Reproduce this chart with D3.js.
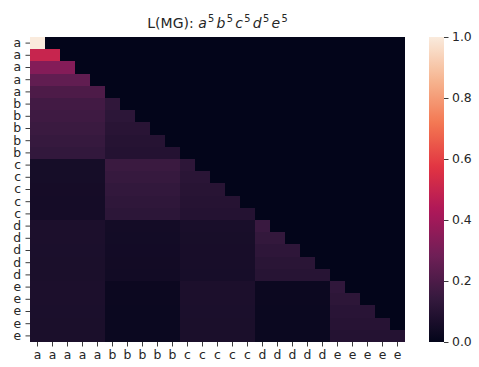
<!DOCTYPE html>
<html>
<head>
<meta charset="utf-8">
<script src="https://cdn.jsdelivr.net/npm/d3@7"></script>
<style>
  html, body { margin: 0; padding: 0; background: #fff; }
  svg { display: block; font-family: "DejaVu Sans", sans-serif; }
</style>
</head>
<body>
<svg id="chart" width="479" height="367"></svg>
<script>
// Token labels along both axes
const tokens = ["a","a","a","a","a","b","b","b","b","b","c","c","c","c","c",
                "d","d","d","d","d","e","e","e","e","e"];
const groups = ["a","b","c","d","e"];

// Attention weight per row, one value per token group (a..e) up to the row's own group.
// Columns past the diagonal are masked to zero.
const rowsA = [[1.0], [0.5], [0.333], [0.25], [0.2]];
const rowsB = [[0.175,0.128],[0.165,0.118],[0.155,0.108],[0.145,0.1],[0.135,0.094]];
const rowsC = [[0.055,0.155,0.12],[0.054,0.145,0.112],[0.053,0.135,0.105],[0.052,0.126,0.099],[0.051,0.118,0.094]];
const rowsD = [[0.072,0.048,0.062,0.152],[0.071,0.047,0.061,0.136],[0.07,0.046,0.06,0.123],[0.069,0.045,0.059,0.112],[0.068,0.044,0.058,0.104]];
const rowsE = [[0.072,0.025,0.072,0.025,0.13],[0.071,0.025,0.071,0.025,0.119],[0.07,0.024,0.07,0.024,0.11],[0.069,0.024,0.069,0.024,0.102],[0.068,0.023,0.068,0.023,0.095]];

const colorTicks = [0, 0.2, 0.4, 0.6, 0.8, 1.0];

// Rocket colormap stops
const rocketStops = [0, 0.143, 0.286, 0.429, 0.571, 0.714, 0.857, 1];
const rocketColors = ["#03051a","#35193e","#701f57","#ad1759","#e13342","#f37651","#f6b48f","#faebdd"];

(function () {
  const color = d3.scaleLinear().domain(rocketStops).range(rocketColors)
    .interpolate(d3.interpolateRgb).clamp(true);

  // Build the full matrix with causal mask
  const blockRows = [].concat(rowsA, rowsB, rowsC, rowsD, rowsE);
  const cells = [];
  blockRows.forEach((gv, i) => {
    tokens.forEach((t, j) => {
      const g = groups.indexOf(t);
      const v = j <= i ? gv[g] : 0;
      cells.push({ i, j, v });
    });
  });

  const svg = d3.select("#chart");
  const x0 = 30, x1 = 405, y0 = 37, y1 = 342;
  const tickFont = 12.4, textColor = "#262626";
  const idx = d3.range(tokens.length);
  const x = d3.scaleBand().domain(idx).range([x0, x1]);
  const y = d3.scaleBand().domain(idx).range([y0, y1]);

  svg.append("g").selectAll("rect").data(cells).join("rect")
    .attr("x", d => x(d.j))
    .attr("y", d => y(d.i))
    .attr("width", x.bandwidth() + 0.3)
    .attr("height", y.bandwidth() + 0.3)
    .attr("fill", d => color(d.v))
    .attr("shape-rendering", "crispEdges");

  // Axes
  const xAxis = svg.append("g").attr("transform", `translate(0,${y1})`)
    .call(d3.axisBottom(x).tickFormat(i => tokens[i]).tickSize(4.5).tickPadding(3.5));
  const yAxis = svg.append("g").attr("transform", `translate(${x0},0)`)
    .call(d3.axisLeft(y).tickFormat(i => tokens[i]).tickSize(4.5).tickPadding(4.5));
  [xAxis, yAxis].forEach(a => {
    a.select(".domain").remove();
    a.selectAll(".tick line").attr("stroke", "#262626").attr("stroke-width", 0.9);
    a.selectAll(".tick text").attr("font-size", tickFont).attr("fill", textColor)
      .attr("font-family", "DejaVu Sans");
  });

  // Colorbar
  const cbX = 429, cbW = 15;
  const cbY = d3.scaleLinear().domain([0, 1]).range([y1, y0]);
  const grad = svg.append("defs").append("linearGradient").attr("id", "cbgrad")
    .attr("x1", 0).attr("y1", 1).attr("x2", 0).attr("y2", 0);
  d3.range(0, 1.0001, 0.02).forEach(t => {
    grad.append("stop").attr("offset", t).attr("stop-color", color(t));
  });
  svg.append("rect").attr("x", cbX).attr("y", y0).attr("width", cbW)
    .attr("height", y1 - y0).attr("fill", "url(#cbgrad)");
  const cbAxis = svg.append("g").attr("transform", `translate(${cbX + cbW},0)`)
    .call(d3.axisRight(cbY).tickValues(colorTicks).tickFormat(d3.format(".1f")).tickSize(4.5).tickPadding(3.5));
  cbAxis.select(".domain").remove();
  cbAxis.selectAll(".tick line").attr("stroke", "#262626").attr("stroke-width", 0.9);
  cbAxis.selectAll(".tick text").attr("font-size", tickFont).attr("fill", textColor)
    .attr("font-family", "DejaVu Sans");

  // Title with italic math and superscripts
  const titleFont = 14, supFont = 9.8;
  const title = svg.append("text")
    .attr("x", (x0 + x1) / 2).attr("y", 28)
    .attr("text-anchor", "middle").attr("font-size", titleFont).attr("fill", textColor);
  title.append("tspan").text("L(MG): ");
  groups.forEach((g, k) => {
    title.append("tspan").attr("font-style", "italic")
      .attr("dy", k === 0 ? 0 : 5.7).attr("dx", k === 0 ? 0 : 2.3).text(g);
    title.append("tspan").attr("font-size", supFont)
      .attr("dy", -5.7).attr("dx", 1.3).text("5");
  });
})();
</script>
</body>
</html>
